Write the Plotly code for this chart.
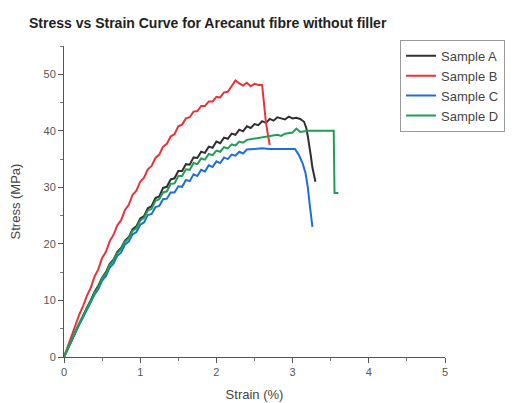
import plotly.graph_objects as go

# ---- data ----
strain_A = [0, 0.05, 0.1, 0.15, 0.2, 0.25, 0.3, 0.35, 0.4, 0.45, 0.5, 0.55, 0.6, 0.65, 0.7, 0.75, 0.8, 0.85, 0.9, 0.95,
            1.0, 1.05, 1.1, 1.15, 1.2, 1.25, 1.3, 1.35, 1.4, 1.45, 1.5, 1.55, 1.6, 1.65, 1.7, 1.75, 1.8, 1.85, 1.9, 1.95,
            2.0, 2.05, 2.1, 2.15, 2.2, 2.25, 2.3, 2.35, 2.4, 2.45, 2.5, 2.55, 2.6, 2.65, 2.7, 2.75, 2.8, 2.85, 2.9, 2.95,
            3.0, 3.05, 3.1, 3.15, 3.18, 3.2, 3.22, 3.24, 3.26, 3.28, 3.3]
stress_A = [0, 1.5, 3.0, 4.5, 6.0, 7.3, 8.7, 10.0, 11.5, 12.6, 14.0, 15.0, 16.5, 17.2, 18.6, 19.3, 20.6, 21.2, 22.6, 23.1,
            24.5, 24.9, 26.3, 26.7, 28.1, 28.4, 29.9, 30.1, 31.4, 31.6, 32.9, 32.9, 34.1, 34.0, 35.3, 35.2, 36.3, 36.1, 37.2, 37.0,
            38.1, 37.8, 38.8, 38.6, 39.5, 39.3, 40.2, 39.9, 40.8, 40.5, 41.2, 41.0, 41.7, 41.4, 42.1, 41.8, 42.4, 42.2, 42.0, 42.5,
            42.2, 42.3, 42.1, 41.6, 40.5, 39.0, 37.5, 35.5, 33.5, 32.0, 31.0]

strain_B = [0, 0.05, 0.1, 0.15, 0.2, 0.25, 0.3, 0.35, 0.4, 0.45, 0.5, 0.55, 0.6, 0.65, 0.7, 0.75, 0.8, 0.85, 0.9, 0.95,
            1.0, 1.05, 1.1, 1.15, 1.2, 1.25, 1.3, 1.35, 1.4, 1.45, 1.5, 1.55, 1.6, 1.65, 1.7, 1.75, 1.8, 1.85, 1.9, 1.95,
            2.0, 2.05, 2.1, 2.15, 2.2, 2.25, 2.3, 2.35, 2.4, 2.45, 2.5, 2.55, 2.6, 2.62, 2.65, 2.68, 2.7]
stress_B = [0, 1.9, 3.8, 5.4, 7.5, 9.0, 10.8, 12.2, 14.2, 15.5, 17.5, 18.6, 20.5, 21.6, 23.3, 24.2, 26.0, 26.9, 28.7, 29.4,
            31.0, 31.7, 33.2, 33.8, 35.2, 35.8, 37.2, 37.7, 39.0, 39.4, 40.8, 41.1, 42.2, 42.4, 43.4, 43.5, 44.4, 44.4, 45.2, 45.2,
            46.0, 45.9, 46.8, 46.9, 47.8, 48.9, 48.4, 48.0, 48.5, 47.9, 48.3, 48.1, 48.1, 45.0, 41.5, 39.0, 37.5]

strain_C = [0, 0.05, 0.1, 0.15, 0.2, 0.25, 0.3, 0.35, 0.4, 0.45, 0.5, 0.55, 0.6, 0.65, 0.7, 0.75, 0.8, 0.85, 0.9, 0.95,
            1.0, 1.05, 1.1, 1.15, 1.2, 1.25, 1.3, 1.35, 1.4, 1.45, 1.5, 1.55, 1.6, 1.65, 1.7, 1.75, 1.8, 1.85, 1.9, 1.95,
            2.0, 2.05, 2.1, 2.15, 2.2, 2.25, 2.3, 2.35, 2.4, 2.5, 2.6, 2.7, 2.8, 2.9, 3.03, 3.08, 3.13, 3.17, 3.2, 3.22,
            3.24, 3.26]
stress_C = [0, 1.5, 3.0, 4.3, 5.8, 7.0, 8.3, 9.5, 11.0, 12.0, 13.5, 14.3, 15.8, 16.5, 17.9, 18.5, 19.9, 20.4, 21.7, 22.1,
            23.4, 23.8, 25.1, 25.3, 26.5, 26.7, 27.9, 28.0, 29.1, 29.1, 30.2, 30.1, 31.3, 31.1, 32.3, 32.0, 33.1, 32.8, 33.9, 33.6,
            34.6, 34.3, 35.3, 35.0, 35.8, 35.6, 36.3, 36.0, 36.7, 36.8, 36.9, 36.8, 36.8, 36.8, 36.8, 35.8, 34.3, 32.5, 30.0, 27.5,
            25.0, 23.0]

strain_D = [0, 0.05, 0.1, 0.15, 0.2, 0.25, 0.3, 0.35, 0.4, 0.45, 0.5, 0.55, 0.6, 0.65, 0.7, 0.75, 0.8, 0.85, 0.9, 0.95,
            1.0, 1.05, 1.1, 1.15, 1.2, 1.25, 1.3, 1.35, 1.4, 1.45, 1.5, 1.55, 1.6, 1.65, 1.7, 1.75, 1.8, 1.85, 1.9, 1.95,
            2.0, 2.05, 2.1, 2.15, 2.2, 2.25, 2.3, 2.35, 2.4, 2.5, 2.6, 2.7, 2.8, 2.85, 2.9, 3.0, 3.05, 3.1, 3.2, 3.3,
            3.4, 3.54, 3.55, 3.6]
stress_D = [0, 1.6, 3.1, 4.6, 6.0, 7.2, 8.6, 9.8, 11.3, 12.3, 13.9, 14.8, 16.3, 17.0, 18.4, 19.1, 20.4, 21.0, 22.3, 22.8,
            24.1, 24.6, 25.9, 26.2, 27.6, 27.9, 29.1, 29.3, 30.6, 30.7, 32.0, 32.0, 33.2, 33.1, 34.3, 34.1, 35.1, 34.9, 35.9, 35.7,
            36.5, 36.3, 37.1, 36.9, 37.6, 37.4, 38.1, 37.9, 38.4, 38.6, 38.9, 39.0, 39.3, 39.1, 39.5, 39.7, 40.4, 39.8, 40.0, 40.0,
            40.0, 40.0, 29.0, 29.0]

names = ["Sample A", "Sample B", "Sample C", "Sample D"]
colors = ["#2f2f2f", "#e8333b", "#1c6fd8", "#1f9e55"]

x_ticks = [0, 1, 2, 3, 4, 5]
y_ticks = [0, 10, 20, 30, 40, 50]

fig = go.Figure()
for name, xs, ys, c in zip(names,
                           [strain_A, strain_B, strain_C, strain_D],
                           [stress_A, stress_B, stress_C, stress_D],
                           colors):
    fig.add_trace(go.Scatter(x=xs, y=ys, mode="lines", name=name,
                             line=dict(color=c, width=2)))

axis_common = dict(showline=True, linecolor="#555", linewidth=1, showgrid=False, zeroline=False,
                   ticks="outside", ticklen=5, tickcolor="#555", automargin=False,
                   tickfont=dict(family="Arial, Liberation Sans, sans-serif", size=11, color="#555"),
                   minor=dict(ticks="outside", ticklen=3, tickcolor="#777"))

# page body has an 8px margin, so the figure is sized to the remaining window area
fig.update_layout(
    width=511, height=395,
    margin=dict(l=56, r=74, t=38, b=46, autoexpand=False),
    paper_bgcolor="white", plot_bgcolor="white",
    font=dict(family="Arial, Liberation Sans, sans-serif", color="#333"),
    title=dict(text="<b>Stress vs Strain Curve for Arecanut fibre without filler</b>",
               x=21/511, xanchor="left", xref="container", y=1-15/395, yanchor="middle", yref="container",
               pad=dict(l=0, r=0, t=0, b=0),
               font=dict(size=14, color="#222")),
    xaxis=dict(range=[0, 5], tickvals=x_ticks, title=dict(text="Strain (%)", font=dict(size=13, color="#444"), standoff=12),
               minor_dtick=0.5, **axis_common),
    yaxis=dict(range=[0, 55], tickvals=y_ticks, title=dict(text="Stress (MPa)", font=dict(size=13, color="#444"), standoff=20),
               minor_dtick=5, **axis_common),
    legend=dict(x=0.882, xanchor="left", y=1.02, yanchor="top",
                bordercolor="#999", borderwidth=1, bgcolor="white",
                font=dict(size=13, color="#444"), tracegroupgap=0, itemwidth=30),
    showlegend=True,
)

fig.write_html("out.html")
